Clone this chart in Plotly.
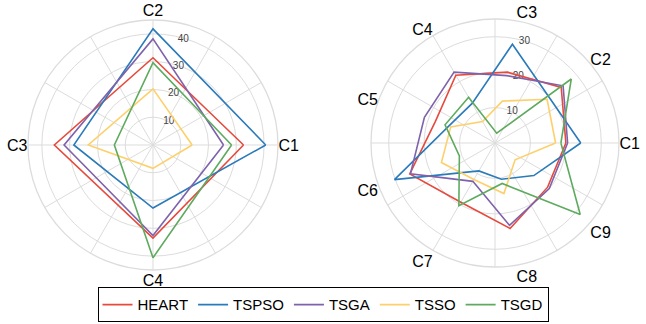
import plotly.graph_objects as go

# left chart: 4 categories
cats_a = ['C1', 'C2', 'C3', 'C4']
heart_a = [32.6, 31.4, 35.5, 33.5]
tspso_a = [40.6, 41.8, 28.5, 22.7]
tsga_a = [25.4, 38.2, 32.0, 32.6]
tsso_a = [14.1, 20.2, 23.3, 8.4]
tsgd_a = [28.3, 29.6, 13.9, 40.6]

# right chart: 9 categories
cats_b = ['C1', 'C2', 'C3', 'C4', 'C5', 'C6', 'C7', 'C8', 'C9']
heart_b = [20.0, 24.4, 20.3, 22.1, 17.9, 25.6, 19.3, 24.5, 19.4]
tspso_b = [24.2, 20.0, 28.3, 12.9, 13.9, 30.2, 9.1, 10.4, 14.3]
tsga_b = [20.5, 25.1, 19.3, 23.1, 21.2, 25.4, 12.5, 23.6, 20.0]
tsso_b = [17.1, 19.2, 12.0, 7.0, 13.3, 16.1, 11.9, 14.5, 7.4]
tsgd_b = [18.6, 28.1, 2.8, 14.9, 15.0, 10.7, 20.4, 11.6, 31.4]

names = ['HEART', 'TSPSO', 'TSGA', 'TSSO', 'TSGD']
colors = ['#E64A3D', '#2B7BBA', '#7E62AC', '#FDD06B', '#5EAA5F']
series_a = [heart_a, tspso_a, tsga_a, tsso_a, tsgd_a]
series_b = [heart_b, tspso_b, tsga_b, tsso_b, tsgd_b]

font = 'Liberation Sans, Arial, sans-serif'
grid = '#dcdcdc'

fig = go.Figure()

# empty traces so the grid-only polars get drawn
fig.add_trace(go.Scatterpolar(r=[], theta=[], subplot='polar', showlegend=False))
fig.add_trace(go.Scatterpolar(r=[], theta=[], subplot='polar3', showlegend=False))

for name, col, va, vb in zip(names, colors, series_a, series_b):
    fig.add_trace(go.Scatterpolar(
        r=va + va[:1], theta=cats_a + cats_a[:1], mode='lines', name=name,
        line=dict(color=col, width=1.6), subplot='polar2', legendgroup=name))
    fig.add_trace(go.Scatterpolar(
        r=vb + vb[:1], theta=cats_b + cats_b[:1], mode='lines', name=name,
        line=dict(color=col, width=1.6), subplot='polar4', legendgroup=name,
        showlegend=False))

dom_a = dict(x=[0.0433, 0.4303], y=[0.1667, 0.9383])
dom_b = dict(x=[0.5743, 0.9582], y=[0.1759, 0.9414])


def grid_polar(dom, rmax, ticks):
    return dict(
        domain=dom, bgcolor='white',
        angularaxis=dict(rotation=0, direction='counterclockwise', dtick=30,
                         showticklabels=False, ticks='', gridcolor=grid,
                         gridwidth=1.3, linecolor=grid, linewidth=1.3),
        radialaxis=dict(range=[0, rmax], tickvals=ticks, angle=80, tickangle=80,
                        side='clockwise', showline=False, ticks='',
                        gridcolor=grid, gridwidth=1.3,
                        tickfont=dict(size=10, color='#444', family=font)),
    )


def cat_polar(dom, rmax):
    return dict(
        domain=dom, bgcolor='rgba(0,0,0,0)',
        angularaxis=dict(rotation=0, direction='counterclockwise', showgrid=False,
                         showline=False, ticks='',
                         tickfont=dict(size=16, color='black', family=font)),
        radialaxis=dict(range=[0, rmax], visible=False),
    )


fig.update_layout(
    width=646, height=324,
    margin=dict(l=0, r=0, t=0, b=0, autoexpand=False),
    paper_bgcolor='white',
    font=dict(family=font),
    polar=grid_polar(dom_a, 45, [10, 20, 30, 40]),
    polar2=cat_polar(dom_a, 45),
    polar3=grid_polar(dom_b, 35, [10, 20, 30]),
    polar4=cat_polar(dom_b, 35),
    legend=dict(orientation='h', x=0.5, xanchor='center', y=0.005, yanchor='bottom',
                bordercolor='black', borderwidth=1, bgcolor='white',
                font=dict(size=15, color='black', family=font),
                itemwidth=30, tracegroupgap=0),
    showlegend=True,
)

fig.write_html('out.html', config={'displayModeBar': False},
               post_script="document.body.style.margin='0';")
